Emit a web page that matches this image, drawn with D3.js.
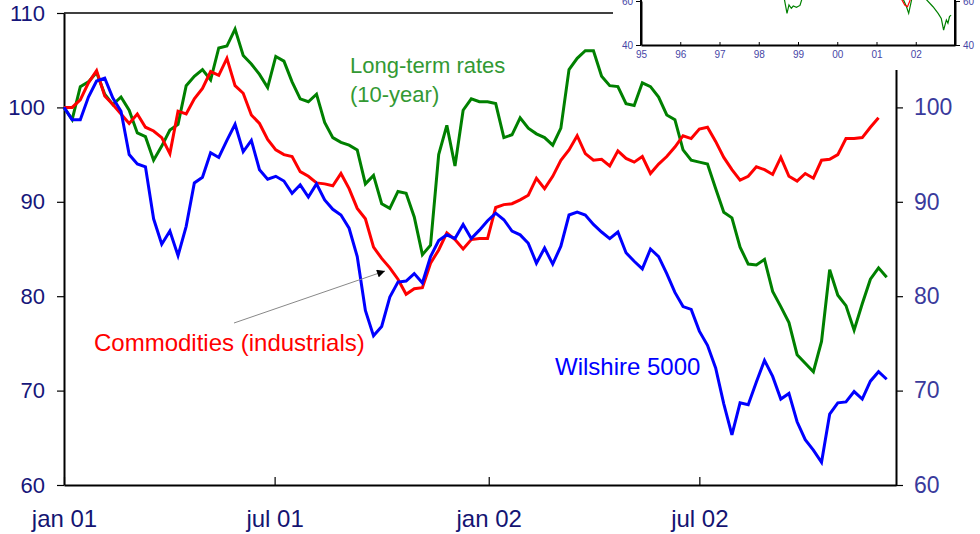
<!DOCTYPE html>
<html>
<head>
<meta charset="utf-8">
<script src="https://cdn.jsdelivr.net/npm/d3@7"></script>
<style>
  body { margin: 0; background: #fff; }
  svg { display: block; font-family: "Liberation Sans", Arial, sans-serif; }
</style>
</head>
<body>
<svg id="chart"></svg>
<script>
// weekly index values, jan 2001 = 100
let rates = [100.0, 98.7, 102.2, 102.7, 103.7, 101.4, 100.3, 101.1, 99.7, 97.3,
  96.9, 94.4, 95.9, 97.6, 98.2, 102.3, 103.3, 104.0, 102.9, 106.3,
  106.5, 108.3, 105.5, 104.6, 103.5, 102.1, 105.4, 104.9, 102.7, 100.9,
  100.6, 101.4, 98.4, 96.8, 96.3, 96.0, 95.5, 91.9, 92.8, 89.8,
  89.3, 91.1, 90.9, 88.4, 84.4, 85.4, 95.0, 98.1, 93.8, 99.7,
  100.9, 100.6, 100.6, 100.4, 96.8, 97.1, 98.9, 97.8, 97.2, 96.8,
  96.0, 97.8, 104.0, 105.2, 106.0, 106.0, 103.3, 102.3, 102.2, 100.4,
  100.2, 102.6, 102.2, 101.1, 99.2, 98.7, 95.5, 94.4, 94.2, 94.0,
  91.4, 88.9, 88.3, 85.2, 83.4, 83.3, 83.9, 80.5, 78.9, 77.2,
  73.8, 72.9, 72.0, 75.2, 82.8, 80.1, 79.0, 76.4, 79.2, 81.8,
  83.0, 82.0]

let commodities = [100.0, 100.0, 100.8, 102.6, 103.9, 101.2, 100.3, 99.3, 98.3, 99.3,
  97.9, 97.5, 96.8, 95.1, 99.6, 99.3, 100.9, 102.0, 103.8, 103.4,
  105.2, 102.3, 101.5, 99.2, 98.3, 96.6, 95.5, 95.0, 94.8, 93.2,
  92.7, 92.0, 91.9, 91.7, 93.0, 91.4, 89.3, 88.2, 85.2, 84.0,
  83.0, 81.8, 80.2, 80.8, 80.9, 83.5, 84.9, 86.7, 86.0, 85.0,
  86.0, 86.1, 86.1, 89.4, 89.7, 89.8, 90.2, 90.7, 92.5, 91.4,
  92.7, 94.4, 95.5, 97.0, 95.1, 94.4, 94.5, 93.8, 95.4, 94.6,
  94.2, 94.8, 93.0, 94.0, 94.8, 95.8, 97.0, 96.7, 97.7, 97.9,
  96.4, 94.7, 93.4, 92.3, 92.7, 93.7, 93.4, 92.9, 94.7, 92.7,
  92.2, 93.0, 92.5, 94.4, 94.5, 95.0, 96.7, 96.7, 96.8, 97.9,
  98.9]

let wilshire = [100.0, 98.7, 98.7, 101.1, 102.8, 103.1, 101.0, 99.6, 95.0, 94.0,
  93.7, 88.2, 85.5, 86.9, 84.3, 87.4, 92.0, 92.6, 95.2, 94.7,
  96.5, 98.2, 95.3, 96.5, 93.4, 92.4, 92.7, 92.2, 90.9, 91.8,
  90.5, 91.9, 90.2, 89.2, 88.6, 87.2, 84.2, 78.5, 75.8, 76.8,
  79.9, 81.5, 81.6, 82.4, 81.4, 84.2, 85.9, 86.5, 86.1, 87.6,
  86.1, 87.0, 88.0, 88.8, 88.1, 86.9, 86.5, 85.6, 83.5, 85.1,
  83.4, 85.3, 88.6, 88.9, 88.6, 87.6, 86.8, 86.1, 86.8, 84.6,
  83.7, 82.9, 85.0, 84.2, 82.4, 80.4, 78.9, 78.6, 76.3, 74.8,
  72.4, 68.6, 65.3, 68.7, 68.5, 70.9, 73.2, 71.5, 69.1, 69.7,
  66.7, 64.8, 63.7, 62.4, 67.5, 68.7, 68.8, 69.9, 69.1, 71.0,
  72.0, 71.2]

let xTickDates = ['2001-01-01', '2001-07-01', '2002-01-01', '2002-07-01']
let xTickLabels = ['jan 01', 'jul 01', 'jan 02', 'jul 02']
let leftTicks = [60, 70, 80, 90, 100, 110]
let rightTicks = [60, 70, 80, 90, 100]

// small long-run chart in the corner, only its bottom strip is on the page
let insetYears = [1995, 1996, 1997, 1998, 1999, 2000, 2001, 2002]
let insetYearLabels = ['95', '96', '97', '98', '99', '00', '01', '02']
let insetTicks = [40, 60]
let insetRates = [[1998.64, 62], [1998.72, 54.4], [1998.77, 58.2], [1998.83, 56.7], [1998.88, 57.7],
  [1998.96, 57.1], [1999.05, 58.0], [1999.12, 62], null,
  [2001.65, 62], [2001.76, 57.6], [2001.82, 54.4], [2001.9, 61], null,
  [2002.2, 62], [2002.44, 57.4], [2002.57, 54.4], [2002.65, 52.1], [2002.71, 46.8],
  [2002.78, 51.4], [2002.82, 49.9], [2002.86, 52.9], [2002.9, 53.6]]
let insetCommodities = [[2001.6, 62], [2001.72, 58.2], [2001.79, 57.4], [2001.87, 61]]

let width = 980
let height = 534
let plotLeft = 64
let plotRight = 896
let plotTop = 13
let plotBottom = 485

let parse = d3.timeParse('%Y-%m-%d')
let start = parse('2001-01-01')
let weekDate = (d, i) => d3.timeDay.offset(start, i * 7)

let svg = d3.select('#chart').attr('width', width).attr('height', height)
let defs = svg.append('defs')

let xScale = d3.scaleTime()
  .domain([start, parse('2002-12-17')])
  .range([plotLeft, plotRight])

let yScale = d3.scaleLinear()
  .domain([60, 110])
  .range([plotBottom, plotTop])

let line = d3.line()
  .x((d, i) => xScale(weekDate(d, i)))
  .y(d => yScale(d))

// frame top
svg.append('line')
  .attr('x1', plotLeft).attr('x2', 613)
  .attr('y1', plotTop).attr('y2', plotTop)
  .attr('stroke', '#000').attr('stroke-width', 1.5)

// axes
let yLeft = d3.axisLeft(yScale).tickValues(leftTicks).tickSizeInner(7).tickSizeOuter(0).tickPadding(12)
let yRight = d3.axisRight(yScale).tickValues(rightTicks).tickSizeInner(7).tickSizeOuter(0).tickPadding(11)
let xAxis = d3.axisBottom(xScale)
  .tickValues(xTickDates.map(parse))
  .tickFormat((d, i) => xTickLabels[i])
  .tickSizeInner(-8).tickSizeOuter(0).tickPadding(25)

let styleAxis = (g, color, size) => {
  g.select('.domain').attr('stroke', '#000').attr('stroke-width', 2)
  g.selectAll('.tick line').attr('stroke', '#000').attr('stroke-width', 1.2)
  g.selectAll('.tick text').attr('fill', color).style('font-size', size + 'px')
    .style('font-family', '"Liberation Sans", Arial, sans-serif')
}

svg.append('g').attr('transform', 'translate(' + plotLeft + ',0)').call(yLeft)
  .call(g => styleAxis(g, '#16167a', 22))
svg.append('g').attr('transform', 'translate(' + plotRight + ',0)').call(yRight)
  .call(g => styleAxis(g, '#3a3a9c', 23))
svg.append('g').attr('transform', 'translate(0,' + plotBottom + ')').call(xAxis)
  .call(g => styleAxis(g, '#141472', 24))

// the three series
let series = [
  { values: rates, color: '#008000' },
  { values: commodities, color: '#ff0000' },
  { values: wilshire, color: '#0000ff' }
]
series.forEach(s => {
  svg.append('path')
    .datum(s.values)
    .attr('d', line)
    .attr('fill', 'none')
    .attr('stroke', s.color)
    .attr('stroke-width', 3)
})

// labels
let addText = (x, y, txt, color, size) => {
  svg.append('text').attr('x', x).attr('y', y).text(txt)
    .attr('fill', color).style('font-size', size + 'px')
}
addText(350, 73, 'Long-term rates', '#339933', 22)
addText(350, 102, '(10-year)', '#339933', 22)
addText(94, 351, 'Commodities (industrials)', '#ff0000', 24)
addText(555, 375, 'Wilshire 5000', '#0000ff', 24)

// arrow pointing at the commodities line
defs.append('marker')
  .attr('id', 'head')
  .attr('viewBox', '0 0 10 10')
  .attr('refX', 10).attr('refY', 5)
  .attr('markerWidth', 10).attr('markerHeight', 8)
  .attr('markerUnits', 'userSpaceOnUse')
  .attr('orient', 'auto')
  .append('path').attr('d', 'M0,0L10,5L0,10Z').attr('fill', '#000')

svg.append('line')
  .attr('x1', 234).attr('y1', 323)
  .attr('x2', 385).attr('y2', 271)
  .attr('stroke', '#888').attr('stroke-width', 1)
  .attr('marker-end', 'url(#head)')

// inset panel
let inset = svg.append('g')
inset.append('rect').attr('x', 613).attr('y', 0).attr('width', 367).attr('height', 70).attr('fill', '#fff')

let ix = d3.scaleLinear().domain([1995, 2003]).range([641, 955])
let iy = d3.scaleLinear().domain([40, 60]).range([45, 1])

defs.append('clipPath').attr('id', 'insetClip')
  .append('rect').attr('x', 641).attr('y', 0).attr('width', 314).attr('height', 45)

let iline = d3.line().defined(d => d != null).x(d => ix(d[0])).y(d => iy(d[1]))
inset.append('path').datum(insetRates).attr('d', iline)
  .attr('fill', 'none').attr('stroke', '#008000').attr('stroke-width', 1.2)
  .attr('clip-path', 'url(#insetClip)')
inset.append('path').datum(insetCommodities).attr('d', iline)
  .attr('fill', 'none').attr('stroke', '#ff0000').attr('stroke-width', 1.2)
  .attr('clip-path', 'url(#insetClip)')

let ixAxis = d3.axisBottom(ix).tickValues(insetYears)
  .tickFormat((d, i) => insetYearLabels[i]).tickSizeInner(-3).tickSizeOuter(0).tickPadding(6)
let iyLeft = d3.axisLeft(iy).tickValues(insetTicks).tickSizeInner(5).tickSizeOuter(0).tickPadding(3)
let iyRight = d3.axisRight(iy).tickValues(insetTicks).tickSizeInner(5).tickSizeOuter(0).tickPadding(3)

let styleInset = g => {
  g.select('.domain').attr('stroke', '#000').attr('stroke-width', 2)
  g.selectAll('.tick line').attr('stroke', '#000')
  g.selectAll('.tick text').attr('fill', '#4646a6').style('font-size', '10px')
    .style('font-family', '"Liberation Sans", Arial, sans-serif')
}
inset.append('g').attr('transform', 'translate(0,45)').call(ixAxis).call(styleInset)
inset.append('g').attr('transform', 'translate(641,0)').call(iyLeft).call(styleInset)
inset.append('g').attr('transform', 'translate(955,0)').call(iyRight).call(styleInset)
// side axes run on past the page top
inset.append('line').attr('x1', 641).attr('x2', 641).attr('y1', 0).attr('y2', 45)
  .attr('stroke', '#000').attr('stroke-width', 2)
inset.append('line').attr('x1', 955).attr('x2', 955).attr('y1', 0).attr('y2', 45)
  .attr('stroke', '#000').attr('stroke-width', 2)
</script>
</body>
</html>
